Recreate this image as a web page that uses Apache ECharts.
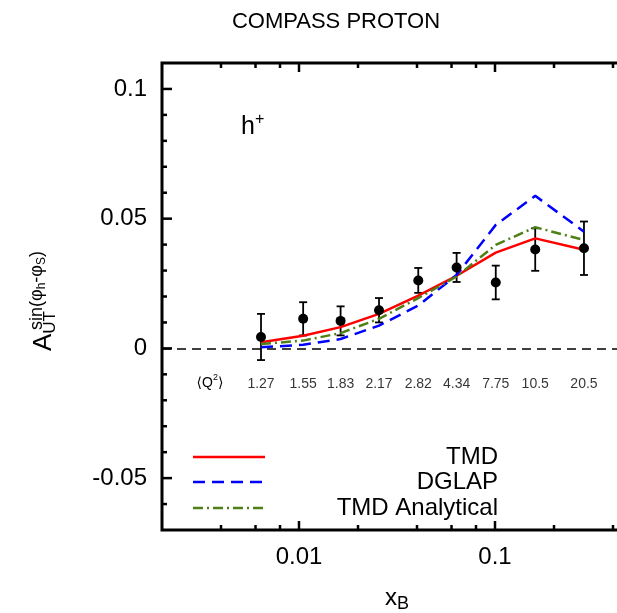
<!DOCTYPE html>
<html>
<head>
    <meta charset="utf-8"/>
    <title>COMPASS PROTON</title>
    <script type="text/javascript" src="https://cdn.jsdelivr.net/npm/echarts@6/dist/echarts.min.js"></script>
    <style>
        html, body { margin: 0; padding: 0; background: #fff; }
    </style>
</head>
<body>
    <div id="chart" style="width: 617px; height: 613px;"></div>
    <script type="text/javascript">
        // x_B bins and measured asymmetry
        var xB = [0.0064, 0.0105, 0.0163, 0.0256, 0.0406, 0.0637, 0.1009, 0.1604, 0.2844];
        var asym = [0.0044, 0.0114, 0.0106, 0.0147, 0.0262, 0.0312, 0.0254, 0.0381, 0.0386];
        var asymErr = [0.0089, 0.0064, 0.0056, 0.0047, 0.0048, 0.0056, 0.0065, 0.0082, 0.0103];
        var q2Labels = ['1.27', '1.55', '1.83', '2.17', '2.82', '4.34', '7.75', '10.5', '20.5'];

        // model curves
        var tmd = [0.0024, 0.0049, 0.0082, 0.0133, 0.0203, 0.0280, 0.0369, 0.0424, 0.0380];
        var dglap = [0.0004, 0.0014, 0.0036, 0.0088, 0.0165, 0.0283, 0.0476, 0.0588, 0.0450];
        var tmdAnalytical = [0.0017, 0.0030, 0.0059, 0.0114, 0.0194, 0.0277, 0.0399, 0.0467, 0.0418];

        // axis ticks
        var xTicksMajor = [0.01, 0.1];
        var xTicksMinor = [0.004, 0.006, 0.008, 0.02, 0.04, 0.06, 0.08, 0.2, 0.4];
        var yTicksMajor = [-0.05, 0, 0.05, 0.1];
        var yTicksMinor = [-0.06, -0.04, -0.03, -0.02, -0.01, 0.01, 0.02, 0.03, 0.04, 0.06, 0.07, 0.08, 0.09];

        var FONT = 'Liberation Sans, Arial, DejaVu Sans, sans-serif';
        var X_MIN = 0.002, X_MAX = 0.5, Y_MIN = -0.07, Y_MAX = 0.11;
        var Q2_ROW = -0.0138;

        var myChart = echarts.init(document.getElementById('chart'));

        function pairs(ys) {
            return xB.map(function (x, i) { return [x, ys[i]]; });
        }

        function tickRender(isX) {
            return function (params, api) {
                var cs = params.coordSys;
                var len = api.value(2);
                var st = { stroke: '#000', lineWidth: 2.5 };
                if (isX) {
                    var px = api.coord([api.value(0), 0])[0];
                    return { type: 'group', children: [
                        { type: 'line', shape: { x1: px, y1: cs.y + cs.height, x2: px, y2: cs.y + cs.height - len }, style: st },
                        { type: 'line', shape: { x1: px, y1: cs.y, x2: px, y2: cs.y + len }, style: st }
                    ] };
                }
                var py = api.coord([0.01, api.value(1)])[1];
                return { type: 'group', children: [
                    { type: 'line', shape: { x1: cs.x, y1: py, x2: cs.x + len, y2: py }, style: st },
                    { type: 'line', shape: { x1: cs.x + cs.width, y1: py, x2: cs.x + cs.width - len, y2: py }, style: st }
                ] };
            };
        }

        var xTickData = xTicksMajor.map(function (v) { return [v, 0, 9]; })
            .concat(xTicksMinor.map(function (v) { return [v, 0, 5]; }));
        var yTickData = yTicksMajor.map(function (v) { return [0.01, v, 10]; })
            .concat(yTicksMinor.map(function (v) { return [0.01, v, 5]; }));

        function txt(x, y, text, size, align, extra) {
            var st = { text: text, fontSize: size, fontFamily: FONT, fill: '#000',
                       align: align, verticalAlign: 'middle', textAlign: align, textVerticalAlign: 'middle' };
            for (var k in extra || {}) st[k] = extra[k];
            return { type: 'text', x: x, y: y, style: st };
        }

        function legendItem(y, color, dash, label) {
            return [
                { type: 'line', shape: { x1: 193, y1: y, x2: 265, y2: y },
                  style: { stroke: color, lineWidth: 2.5, lineDash: dash } },
                txt(498, y, label, 24, 'right')
            ];
        }

        var option = {
            animation: false,
            textStyle: { fontFamily: FONT },
            grid: {
                left: 162, top: 63, width: 470, height: 467,
                outerBoundsMode: 'none', containLabel: false,
                show: true, borderColor: '#000', borderWidth: 3, backgroundColor: 'transparent'
            },
            xAxis: {
                type: 'log', logBase: 10, min: X_MIN, max: X_MAX,
                axisLine: { show: false },
                axisTick: { show: false },
                splitLine: { show: false },
                minorTick: { show: false },
                axisLabel: {
                    margin: 15, fontSize: 24, color: '#000', fontFamily: FONT,
                    showMinLabel: false, showMaxLabel: false,
                    formatter: function (v) {
                        var l = Math.log10(v);
                        if (Math.abs(l - Math.round(l)) > 1e-6) return '';
                        return String(+v.toPrecision(3));
                    }
                }
            },
            yAxis: [
                {
                    type: 'value', min: Y_MIN, max: Y_MAX, interval: 0.01, position: 'left',
                    axisLine: { show: false },
                    axisTick: { show: false },
                    splitLine: { show: false },
                    axisLabel: {
                        margin: 15, fontSize: 24, color: '#000', fontFamily: FONT,
                        formatter: function (v) {
                            var k = Math.round(v * 100);
                            if (k % 5 !== 0) return '';
                            return String(k / 100);
                        }
                    },
                    name: '{a|A}{u|UT}',
                    nameLocation: 'middle', nameRotate: 90, nameGap: 103,
                    nameTextStyle: {
                        color: '#000', fontFamily: FONT, padding: [0, 69, 0, 0],
                        rich: {
                            a: { fontSize: 26, lineHeight: 30, fontFamily: FONT, color: '#000' },
                            u: { fontSize: 17, verticalAlign: 'bottom', fontFamily: FONT, color: '#000' }
                        }
                    }
                },
                {
                    type: 'value', min: Y_MIN, max: Y_MAX, interval: 0.01, position: 'left', offset: 0,
                    axisLine: { show: false },
                    axisTick: { show: false },
                    splitLine: { show: false },
                    axisLabel: { show: false },
                    name: '{s|sin(\u03c6}{b|h}{s|-\u03c6}{b|S}{s|)}',
                    nameLocation: 'middle', nameRotate: 90, nameGap: 114,
                    nameTextStyle: {
                        color: '#000', fontFamily: FONT, padding: [0, 0, 0, 12],
                        rich: {
                            s: { fontSize: 18, lineHeight: 22, fontFamily: FONT, color: '#000' },
                            b: { fontSize: 12, verticalAlign: 'bottom', fontFamily: FONT, color: '#000' }
                        }
                    }
                }
            ],
            graphic: [
                txt(336, 22, 'COMPASS PROTON', 22, 'center'),
                txt(241, 127, '{h|h}{p|+}', 25, 'left',
                    { rich: { h: { fontSize: 25, lineHeight: 30, fontFamily: FONT }, p: { fontSize: 16, verticalAlign: 'top', fontFamily: FONT } } }),
                txt(210, 383, '\u27e8Q{s|2}\u27e9', 14, 'center',
                    { lineHeight: 20, rich: { s: { fontSize: 9, verticalAlign: 'top', fontFamily: FONT } } }),
                txt(397, 598, '{x|x}{b|B}', 24, 'center',
                    { rich: { x: { fontSize: 24, lineHeight: 30, fontFamily: FONT }, b: { fontSize: 18, verticalAlign: 'bottom', fontFamily: FONT } } })
            ].concat(legendItem(457, '#ff0000', null, 'TMD'))
             .concat(legendItem(482, '#0000ff', [12, 7], 'DGLAP'))
             .concat(legendItem(508, '#4f7f17', [10, 4, 2, 4], 'TMD Analytical')),
            series: [
                {
                    name: 'ticksX', type: 'custom', silent: true, clip: false,
                    renderItem: tickRender(true), data: xTickData, z: 10
                },
                {
                    name: 'ticksY', type: 'custom', silent: true, clip: false,
                    renderItem: tickRender(false), data: yTickData, z: 10
                },
                {
                    name: 'errors', type: 'custom', silent: true,
                    renderItem: function (params, api) {
                        var x = api.value(0);
                        var hi = api.coord([x, api.value(2)]);
                        var lo = api.coord([x, api.value(1)]);
                        var st = { stroke: '#000', lineWidth: 1.8 };
                        return { type: 'group', children: [
                            { type: 'line', shape: { x1: hi[0], y1: hi[1], x2: lo[0], y2: lo[1] }, style: st },
                            { type: 'line', shape: { x1: hi[0] - 4, y1: hi[1], x2: hi[0] + 4, y2: hi[1] }, style: st },
                            { type: 'line', shape: { x1: lo[0] - 4, y1: lo[1], x2: lo[0] + 4, y2: lo[1] }, style: st }
                        ] };
                    },
                    data: xB.map(function (x, i) { return [x, asym[i] - asymErr[i], asym[i] + asymErr[i]]; }),
                    markLine: {
                        silent: true, symbol: 'none', label: { show: false },
                        lineStyle: { color: '#000', type: [9, 6], width: 1.5 },
                        data: [{ yAxis: 0 }]
                    },
                    z: 2
                },
                {
                    name: 'TMD', type: 'line', data: pairs(tmd), showSymbol: false, symbol: 'none',
                    lineStyle: { color: '#ff0000', width: 2.5 }, z: 3
                },
                {
                    name: 'DGLAP', type: 'line', data: pairs(dglap), showSymbol: false, symbol: 'none',
                    lineStyle: { color: '#0000ff', width: 2.5, type: [12, 7] }, z: 3
                },
                {
                    name: 'TMD Analytical', type: 'line', data: pairs(tmdAnalytical), showSymbol: false, symbol: 'none',
                    lineStyle: { color: '#4f7f17', width: 2.5, type: [10, 4, 2, 4] }, z: 3
                },
                {
                    name: 'COMPASS', type: 'scatter', data: pairs(asym), symbol: 'circle', symbolSize: 10,
                    itemStyle: { color: '#000', opacity: 1 }, z: 4
                },
                {
                    name: 'Q2', type: 'scatter', silent: true, symbolSize: 0,
                    data: xB.map(function (x) { return [x, Q2_ROW]; }),
                    label: {
                        show: true, position: 'inside', fontSize: 14, color: '#000', fontFamily: FONT,
                        formatter: function (p) { return q2Labels[p.dataIndex]; }
                    },
                    z: 4
                }
            ]
        };
        myChart.setOption(option);
    </script>
</body>
</html>
